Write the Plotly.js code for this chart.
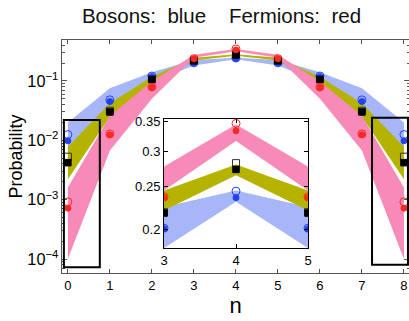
<!DOCTYPE html>
<html>
<head>
<meta charset="utf-8">
<script src="https://cdn.plot.ly/plotly-3.0.1.min.js"></script>
<style>html,body{margin:0;padding:0;background:#fff;}#chart{width:409px;height:321px;}</style>
</head>
<body>
<div id="chart"></div>
<script>
// ---- data ----
const n = [0, 1, 2, 3, 4, 5, 6, 7, 8];

// theory (open markers) and experiment (filled markers)
const bosonTheory   = [0.0125, 0.048, 0.121, 0.2016, 0.244, 0.2016, 0.121, 0.048, 0.0125];
const bosonExp      = [0.0098, 0.045, 0.118, 0.2010, 0.236, 0.2010, 0.118, 0.045, 0.0098];
const distTheory    = [0.0053, 0.0315, 0.108, 0.219, 0.282, 0.219, 0.108, 0.0315, 0.0053];
const distExp       = [0.0042, 0.0300, 0.106, 0.218, 0.273, 0.218, 0.106, 0.0300, 0.0042];
const fermionTheory = [0.00092, 0.0128, 0.079, 0.237, 0.346, 0.237, 0.079, 0.0128, 0.00092];
const fermionExp    = [0.00072, 0.0124, 0.078, 0.236, 0.333, 0.236, 0.078, 0.0124, 0.00072];

// shaded bands (lower / upper edges)
const bosonBandLo   = [0.0055, 0.034, 0.095, 0.182, 0.231, 0.182, 0.095, 0.034, 0.0055];
const bosonBandHi   = [0.020, 0.075, 0.140, 0.225, 0.245, 0.225, 0.140, 0.075, 0.020];
const distBandLo    = [0.0022, 0.025, 0.080, 0.221, 0.265, 0.221, 0.080, 0.025, 0.0022];
const distBandHi    = [0.0078, 0.042, 0.118, 0.245, 0.280, 0.245, 0.118, 0.042, 0.0078];
const fermionBandLo = [0.0001, 0.0067, 0.050, 0.245, 0.316, 0.245, 0.050, 0.0067, 0.0001];
const fermionBandHi = [0.0016, 0.026, 0.098, 0.277, 0.344, 0.277, 0.098, 0.026, 0.0016];

const xTicks = [0, 1, 2, 3, 4, 5, 6, 7, 8];
const insetXTicks = [3, 4, 5];
const insetYTicks = [0.2, 0.25, 0.3, 0.35];
const insetYLabels = ['0.2', '0.25', '0.3', '0.35'];

// ---- styles ----
const BLUE_BAND = '#a6b6f8', OLIVE_BAND = '#b5b300', PINK_BAND = '#f78ab9';
const BLUE = '#1f42f5', RED = '#f52a22', BLACK = '#000000';
const FONT = 'Liberation Sans, Arial, sans-serif';

function band(lo, hi, color, xa, ya) {
  return {
    x: n.concat(n.slice().reverse()),
    y: hi.concat(lo.slice().reverse()),
    fill: 'toself', fillcolor: color, mode: 'lines', line: {width: 0},
    hoverinfo: 'skip', showlegend: false, xaxis: xa, yaxis: ya
  };
}
function markers(y, symbol, color, size, xa, ya, lw) {
  return {
    x: n, y: y, mode: 'markers', showlegend: false, xaxis: xa, yaxis: ya,
    marker: {symbol: symbol, color: color, size: size, line: {color: color, width: lw || 1}}
  };
}

const traces = [];
[['x', 'y'], ['x2', 'y2']].forEach(([xa, ya]) => {
  traces.push(band(bosonBandLo, bosonBandHi, BLUE_BAND, xa, ya));
  traces.push(band(distBandLo, distBandHi, OLIVE_BAND, xa, ya));
  traces.push(band(fermionBandLo, fermionBandHi, PINK_BAND, xa, ya));
  traces.push(markers(bosonTheory, 'circle-open', BLUE, 8, xa, ya));
  traces.push(markers(distTheory, 'square-open', '#333', 7, xa, ya));
  traces.push(markers(fermionTheory, 'circle-open', RED, 8, xa, ya));
  traces.push(markers(bosonExp, 'circle', BLUE, 6, xa, ya));
  traces.push(markers(distExp, 'square', BLACK, 6.5, xa, ya));
  traces.push(markers(fermionExp, 'circle', RED, 6, xa, ya));
});

const axisCommon = {
  showgrid: false, zeroline: false, showline: true, mirror: 'ticks',
  ticks: 'inside', linecolor: '#555', tickcolor: '#555', linewidth: 1,
  tickfont: {family: FONT, size: 13, color: '#000'}
};

const layout = {
  width: 409, height: 321,
  margin: {l: 62, r: 0, t: 40, b: 48},
  paper_bgcolor: '#fff', plot_bgcolor: '#fff',
  font: {family: FONT, color: '#000'},
  title: {
    text: 'Bosons:\u00a0\u00a0blue\u00a0\u00a0\u00a0\u00a0Fermions:\u00a0\u00a0red',
    font: {family: FONT, size: 20.5, color: '#111'},
    x: 0.5416, xref: 'container', xanchor: 'center',
    y: 0.95, yref: 'container', yanchor: 'middle'
  },
  xaxis: Object.assign({}, axisCommon, {
    range: [-0.14, 8.12], tickvals: xTicks, ticklen: 4,
    title: {text: 'n', font: {family: FONT, size: 22, color: '#000'}, standoff: 1}
  }),
  yaxis: Object.assign({}, axisCommon, {
    type: 'log', range: [-4.235, -0.311], dtick: 1, ticklen: 5,
    exponentformat: 'power', showexponent: 'all',
    minor: {ticks: 'inside', ticklen: 2.5, tickcolor: '#555', showgrid: false},
    title: {text: 'Probability', font: {family: FONT, size: 18, color: '#000'}, standoff: 0}
  }),
  xaxis2: Object.assign({}, axisCommon, {
    domain: [0.294, 0.709], anchor: 'y2', range: [3, 5], tickvals: insetXTicks,
    ticklen: 4, linecolor: '#000', tickcolor: '#000'
  }),
  yaxis2: Object.assign({}, axisCommon, {
    domain: [0.107, 0.661], anchor: 'x2', type: 'log',
    range: [Math.log10(0.182), Math.log10(0.354)],
    tickvals: insetYTicks, ticktext: insetYLabels, ticklen: 4,
    linecolor: '#000', tickcolor: '#000'
  }),
  shapes: [
    {type: 'rect', xref: 'x', yref: 'y', x0: -0.095, x1: 0.76, y0: 7.3e-5, y1: 0.022,
     line: {color: '#000', width: 2}, fillcolor: 'rgba(0,0,0,0)'},
    {type: 'rect', xref: 'x', yref: 'y', x0: 7.24, x1: 8.095, y0: 8.0e-5, y1: 0.024,
     line: {color: '#000', width: 2}, fillcolor: 'rgba(0,0,0,0)'}
  ]
};

Plotly.newPlot('chart', traces, layout, {displayModeBar: false, staticPlot: true});
</script>
</body>
</html>
